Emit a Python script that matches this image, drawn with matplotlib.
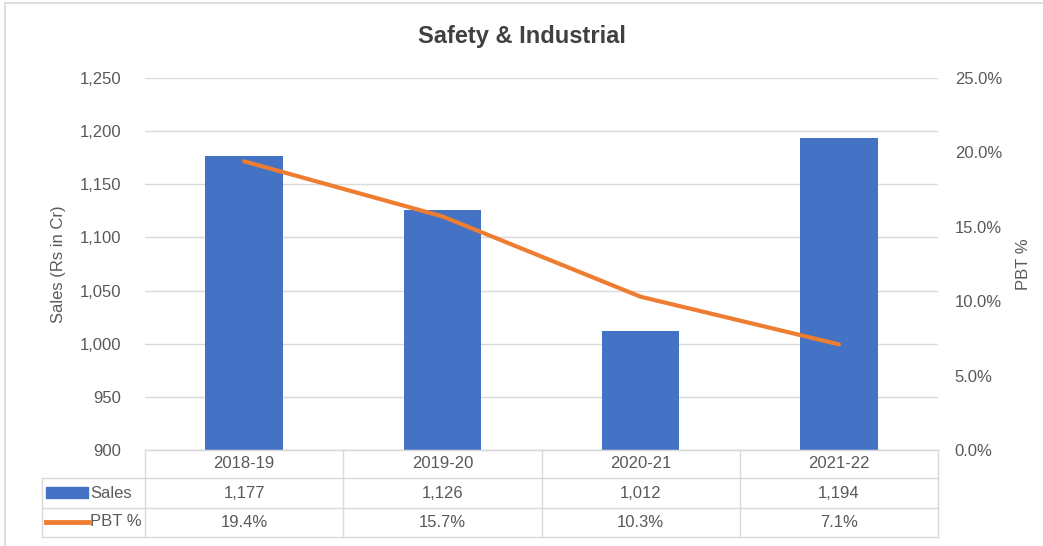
import matplotlib
matplotlib.use("Agg")
import matplotlib.pyplot as plt
from matplotlib.patches import Rectangle
from matplotlib.lines import Line2D

categories = ["2018-19", "2019-20", "2020-21", "2021-22"]
sales = [1177, 1126, 1012, 1194]
pbt = [19.4, 15.7, 10.3, 7.1]
sales_labels = ["1,177", "1,126", "1,012", "1,194"]
pbt_labels = ["19.4%", "15.7%", "10.3%", "7.1%"]

BLUE = "#4472C4"
ORANGE = "#ED7D31"
TXT = "#595959"
GRID = "#D9D9D9"
FONT = ["Liberation Sans Narrow", "Liberation Sans", "DejaVu Sans"]

plt.rcParams["font.family"] = FONT

W, H = 1043, 546
fig = plt.figure(figsize=(W / 100, H / 100), dpi=100)
fig.patch.set_facecolor("white")

L, R, T, B = 145, 938, 78, 450
ax = fig.add_axes([L / W, 1 - B / H, (R - L) / W, (B - T) / H])
x = list(range(len(categories)))
ax.bar(x, [s - 900 for s in sales], bottom=900, width=0.39, color=BLUE, zorder=2)
ax.set_xlim(-0.5, 3.5)
ax.set_ylim(900, 1250)
ax.set_yticks(range(900, 1251, 50))
ax.set_yticklabels([f"{v:,}" for v in range(900, 1251, 50)])
ax.yaxis.grid(True, color=GRID, linewidth=1, zorder=0)
ax.set_xticks([])
for s in ["top", "right", "left"]:
    ax.spines[s].set_visible(False)
ax.spines["bottom"].set_color(GRID)
ax.tick_params(axis="y", length=0, labelsize=12, labelcolor=TXT, pad=17)
ax.set_ylabel("Sales (Rs in Cr)", fontsize=12, color=TXT, labelpad=10)

ax2 = ax.twinx()
ax2.plot(x, pbt, color=ORANGE, linewidth=3, zorder=3, solid_capstyle="round")
ax2.set_ylim(0, 25)
ax2.set_yticks(range(0, 26, 5))
ax2.set_yticklabels([f"{v:.1f}%" for v in range(0, 26, 5)])
for s in ["top", "right", "left", "bottom"]:
    ax2.spines[s].set_visible(False)
ax2.tick_params(axis="y", length=0, labelsize=12, labelcolor=TXT, pad=12)
ax2.set_ylabel("PBT %", fontsize=12, color=TXT, labelpad=10)

fig.text(0.5, 1 - 37 / H, "Safety & Industrial", ha="center", va="center",
         fontsize=17, fontweight="bold", color="#404040",
         family=["Liberation Sans", "DejaVu Sans"])

# Data table drawn below the axes (figure pixel coordinates)
def fx(px):
    return px / W

def fy(py):
    return 1 - py / H

rows = [450, 478, 508, 537]
left_tab = 42
colx = [ax.transData.transform((c, 900))[0] for c in [-0.5, 0.5, 1.5, 2.5, 3.5]]
lines = []
for i, ry in enumerate(rows):
    x0 = L if i == 0 else left_tab
    lines.append(Line2D([fx(x0), fx(R)], [fy(ry), fy(ry)], color=GRID, lw=1))
for cx in colx:
    lines.append(Line2D([fx(cx), fx(cx)], [fy(rows[0]), fy(rows[-1])], color=GRID, lw=1))
lines.append(Line2D([fx(left_tab), fx(left_tab)], [fy(rows[1]), fy(rows[-1])], color=GRID, lw=1))
for ln in lines:
    fig.add_artist(ln)

for i, c in enumerate(categories):
    cx = (colx[i] + colx[i + 1]) / 2
    fig.text(fx(cx), fy((rows[0] + rows[1]) / 2), c, ha="center", va="center", fontsize=12, color=TXT)
    fig.text(fx(cx), fy((rows[1] + rows[2]) / 2), sales_labels[i], ha="center", va="center", fontsize=12, color=TXT)
    fig.text(fx(cx), fy((rows[2] + rows[3]) / 2), pbt_labels[i], ha="center", va="center", fontsize=12, color=TXT)

fig.add_artist(Rectangle((fx(46), fy(498)), fx(88) - fx(46), fy(487) - fy(498),
                         transform=fig.transFigure, color=BLUE))
fig.text(fx(90), fy(493), "Sales", ha="left", va="center", fontsize=12, color=TXT)
fig.add_artist(Line2D([fx(46), fx(88)], [fy(522), fy(522)], color=ORANGE, lw=3.5))
fig.text(fx(90), fy(522), "PBT %", ha="left", va="center", fontsize=12, color=TXT)

# outer chart border
fig.add_artist(Rectangle((fx(5), fy(560)), fx(1060) - fx(5), fy(3) - fy(560),
                         transform=fig.transFigure, fill=False, edgecolor=GRID, lw=1.2))

fig.savefig("out.png", dpi=100)
